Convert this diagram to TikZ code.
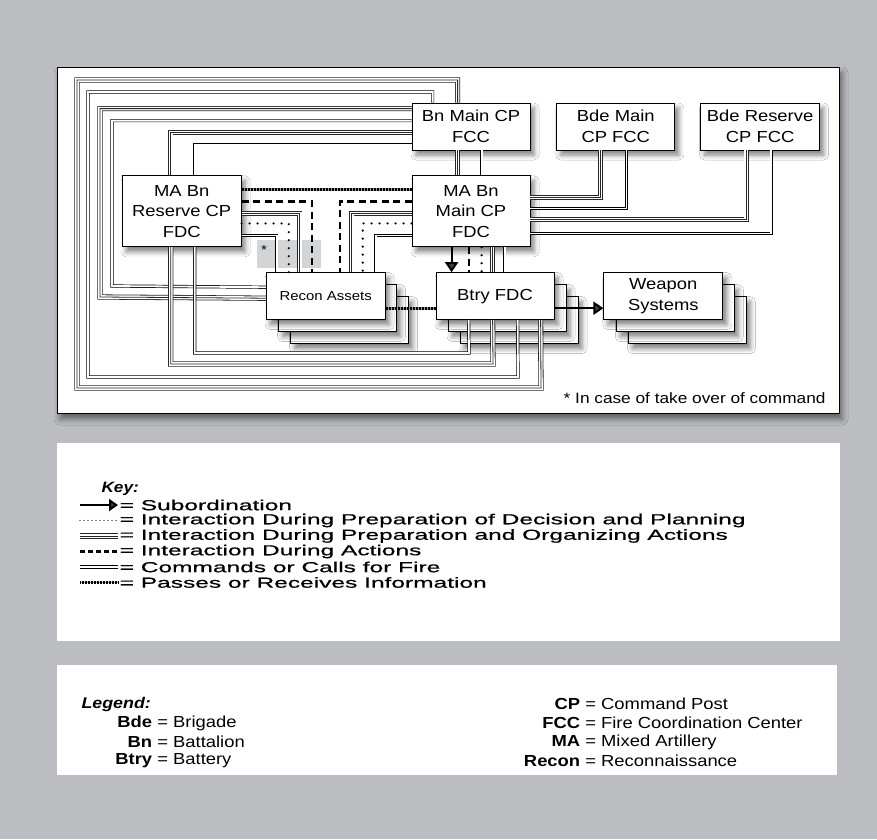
\documentclass[tikz,border=0pt]{standalone}
\usepackage{fontspec}
\setmainfont{Liberation Sans}[FakeStretch=1.15]
\newfontfamily\keyfamily{Liberation Sans}[FakeStretch=1.69, FakeBold=0.6]
\usepackage{xcolor}
\usepackage{tikz}
\usetikzlibrary{positioning,calc,arrows.meta,shadows.blur}
\definecolor{PanelGray}{HTML}{BCBDC1}
\definecolor{TakeOverGray}{HTML}{D3D4D6}
\pgfdeclarelayer{back}
\pgfsetlayers{back,main}

\begin{document}
\begin{tikzpicture}[
      x=1pt, y=-1pt,
      every node/.style={align=center},
      unit/.style={draw, fill=white, line width=0.8pt, inner sep=0pt, minimum width=118pt, minimum height=47pt, font=\fontsize{16}{20.5}\selectfont, blur shadow={shadow xshift=4pt, shadow yshift=-5pt, shadow blur radius=5pt, shadow opacity=50}},
      tall/.style={unit, minimum height=71pt},
      stackbox/.style={unit},
      dbl/.style={draw=black, line width=0.7pt, double=white, double distance=1.8pt},
      trpl/.style={draw=black!85, line width=0.8pt, preaction={draw=black!85, line width=5.2pt}, preaction={draw=white, line width=3.6pt}},
      dashln/.style={line width=2.2pt, dash pattern=on 7pt off 4.5pt},
      dotln/.style={line width=2.4pt, line cap=round, dash pattern=on 0pt off 8pt},
      info/.style={line width=2.6pt, draw=black!40, postaction={draw=black, line width=2.6pt, dash pattern=on 0.5pt off 1pt}},
      arrow/.style={line width=2pt, -{Triangle[width=13pt,length=10pt]}},
      keytext/.style={anchor=west, inner xsep=1.5pt, inner ysep=0pt, font=\keyfamily\fontsize{14.5}{15}\selectfont},
      legtext/.style={anchor=west, inner sep=0pt, font=\fontsize{16}{18}\selectfont}
    ]
      \useasboundingbox (0,0) rectangle (877,839);

      % Units
      \node[unit] (bnmain) at (471,126.5) {Bn Main CP\\FCC};
      \node[unit, right=26pt of bnmain] (bdemain) {Bde Main\\CP FCC};
      \node[unit, right=25pt of bdemain, minimum width=119pt] (bderes) {Bde Reserve\\CP FCC};
      \node[tall, below=25pt of bnmain] (mamain) {MA Bn\\Main CP\\FDC};
      \node[tall, left=170pt of mamain, minimum width=119pt] (mares) {MA Bn\\Reserve CP\\FDC};
      \node[unit, below=25pt of mamain, xshift=24pt] (btry) {Btry FDC};
      \node[unit, left=50pt of btry, minimum width=119pt, font=\fontsize{13}{15}\selectfont] (recon) {Recon Assets};
      \node[unit, right=49pt of btry, minimum width=119pt] (weapon) {Weapon\\Systems};

      \begin{pgfonlayer}{back}
        \fill[PanelGray] (0,0) rectangle (877,839);
        \draw[fill=white, line width=0.8pt, blur shadow={shadow xshift=3pt, shadow yshift=-6pt, shadow blur radius=6pt, shadow opacity=50}] (57,67) rectangle (839,413);
        \fill[white] (57,443) rectangle (840,641);
        \fill[white] (57,665) rectangle (837,775);
        \fill[TakeOverGray] (257,240) rectangle (321,268);
        % stacked copies
        \node[stackbox] (recon3) at ($(recon)+(24,24)$) {};
        \node[stackbox] (recon2) at ($(recon)+(12,12)$) {};
        \node[stackbox] (btry3) at ($(btry)+(24,24)$) {};
        \node[stackbox] (btry2) at ($(btry)+(12,12)$) {};
        \node[stackbox] (weapon3) at ($(weapon)+(24,24)$) {};
        \node[stackbox] (weapon2) at ($(weapon)+(12,12)$) {};
      \end{pgfonlayer}

      % Outer loops
      \draw[trpl] ($(bnmain.north west)+(46,0)$) |- (77,80) |- (541,388) -- ($(btry.south west)+(105,0)$);
      \draw[dbl] ($(bnmain.north west)+(21,0)$) |- (88,92) |- (518,377) -- ($(btry.south west)+(82,0)$);
      \draw[trpl] ($(bnmain.north west)+(0,6)$) -| (100,297) -- ($(recon.north west)+(0,26)$);
      \draw[dbl] ($(bnmain.north west)+(0,18)$) -| (112,286) -- ($(recon.north west)+(0,15)$);
      \draw[trpl] ($(bnmain.north west)+(0,30)$) -| ($(mares.north west)+(49,0)$);
      \draw[dbl] ($(bnmain.north west)+(0,42)$) -| ($(mares.north west)+(73,0)$);
      \draw[trpl] ($(mares.south west)+(49,0)$) |- (493,364) -- ($(btry.south west)+(57,0)$);
      \draw[dbl] ($(mares.south west)+(73,0)$) |- (469,353) -- ($(btry.south west)+(33,0)$);

      % Brigade and battalion links
      \draw[trpl] ($(bnmain.south west)+(46,0)$) -- ($(mamain.north west)+(46,0)$);
      \draw[dbl] ($(bnmain.south west)+(70,0)$) -- ($(mamain.north west)+(70,0)$);
      \draw[trpl] ($(bdemain.south west)+(44,0)$) |- ($(mamain.north east)+(0,22)$);
      \draw[dbl] ($(bdemain.south west)+(70,0)$) |- ($(mamain.north east)+(0,33)$);
      \draw[trpl] ($(bderes.south west)+(46,0)$) |- ($(mamain.north east)+(0,44)$);
      \draw[dbl] ($(bderes.south west)+(71,0)$) |- ($(mamain.north east)+(0,58)$);

      % FDC to recon
      \draw[info] ($(mares.north east)+(0,14)$) -- ($(mamain.north west)+(0,14)$);
      \draw[dashln] ($(mares.north east)+(0,26)$) -| ($(recon.north west)+(46,0)$);
      \draw[dashln] ($(mamain.north west)+(0,26)$) -| ($(recon.north west)+(74,0)$);
      \draw[trpl] ($(mares.north east)+(0,38)$) -| ($(recon.north west)+(34,0)$);
      \draw[trpl] ($(mamain.north west)+(0,38)$) -| ($(recon.north west)+(86,0)$);
      \draw[dotln] ($(mares.north east)+(0,48)$) -| ($(recon.north west)+(23,0)$);
      \draw[dotln] ($(mamain.north west)+(0,48)$) -| ($(recon.north west)+(97,0)$);
      \draw[dbl] ($(mares.north east)+(0,60)$) -| ($(recon.north west)+(11,0)$);
      \draw[dbl] ($(mamain.north west)+(0,60)$) -| ($(recon.north west)+(110,0)$);
      \node[font=\fontsize{13}{13}\selectfont, inner sep=0pt] (star) at (264,250) {*};

      % FDC to battery
      \draw[arrow] ($(mamain.south west)+(40,0)$) -- ($(btry.north west)+(16,0)$);
      \draw[dashln] ($(mamain.south west)+(57,0)$) -- ($(btry.north west)+(33,0)$);
      \draw[dotln] ($(mamain.south west)+(70,0)$) -- ($(btry.north west)+(46,0)$);
      \draw[trpl] ($(mamain.south west)+(81,0)$) -- ($(btry.north west)+(57,0)$);
      \draw[dbl] ($(mamain.south west)+(93,0)$) -- ($(btry.north west)+(69,0)$);
      \draw[info] ($(recon.north east)+(0,36)$) -- ($(btry.north west)+(0,36)$);
      \draw[arrow] ($(btry.north east)+(0,36)$) -- ($(weapon.north west)+(0,36)$);

      \node[anchor=east, font=\fontsize{15}{15}\selectfont] (note) at (829,398) {* In case of take over of command};

      % Key
      \node[anchor=west, font=\fontsize{15}{15}\selectfont\bfseries\itshape] (keyhead) at (98,489) {Key:};
      \node[keytext] (k1) at (118,505) {= Subordination};
      \node[keytext] (k2) at (118,520.5) {= Interaction During Preparation of Decision and Planning};
      \node[keytext] (k3) at (118,536) {= Interaction During Preparation and Organizing Actions};
      \node[keytext] (k4) at (118,551.5) {= Interaction During Actions};
      \node[keytext] (k5) at (118,567) {= Commands or Calls for Fire};
      \node[keytext] (k6) at (118,582.5) {= Passes or Receives Information};
      \coordinate (s1) at (80,505);
      \coordinate (s2) at (80,520.5);
      \coordinate (s3) at (80,536);
      \coordinate (s4) at (80,551.5);
      \coordinate (s5) at (80,567);
      \coordinate (s6) at (80,582.5);
      \draw[arrow, -{Triangle[width=12pt,length=9pt]}] (s1) -- (k1.west);
      \draw[dotln, line width=1.3pt, dash pattern=on 0pt off 4pt] (s2) -- (k2.west);
      \draw[trpl] (s3) -- (k3.west);
      \draw[dashln, dash pattern=on 5pt off 3pt] (s4) -- (k4.west);
      \draw[dbl] (s5) -- (k5.west);
      \draw[info, line width=1.8pt, postaction={draw=black, line width=1.8pt, dash pattern=on 0.5pt off 1pt}] (s6) -- (k6.west);

      % Legend
      \node[anchor=west, font=\fontsize{15.5}{16}\selectfont\bfseries\itshape] (leghead) at (78,704) {Legend:};
      \node[legtext] (lbde) at (110,723) {\makebox[42pt][r]{\bfseries Bde} = Brigade};
      \node[legtext] (lbn) at (110,742) {\makebox[42pt][r]{\bfseries Bn} = Battalion};
      \node[legtext] (lbtry) at (110,761) {\makebox[42pt][r]{\bfseries Btry} = Battery};
      \node[legtext] (lcp) at (518,704) {\makebox[62pt][r]{\bfseries CP} = Command Post};
      \node[legtext] (lfcc) at (518,723) {\makebox[62pt][r]{\bfseries FCC} = Fire Coordination Center};
      \node[legtext] (lma) at (518,742) {\makebox[62pt][r]{\bfseries MA} = Mixed Artillery};
      \node[legtext] (lrecon) at (518,761) {\makebox[62pt][r]{\bfseries Recon} = Reconnaissance};

    \end{tikzpicture}
\end{document}
